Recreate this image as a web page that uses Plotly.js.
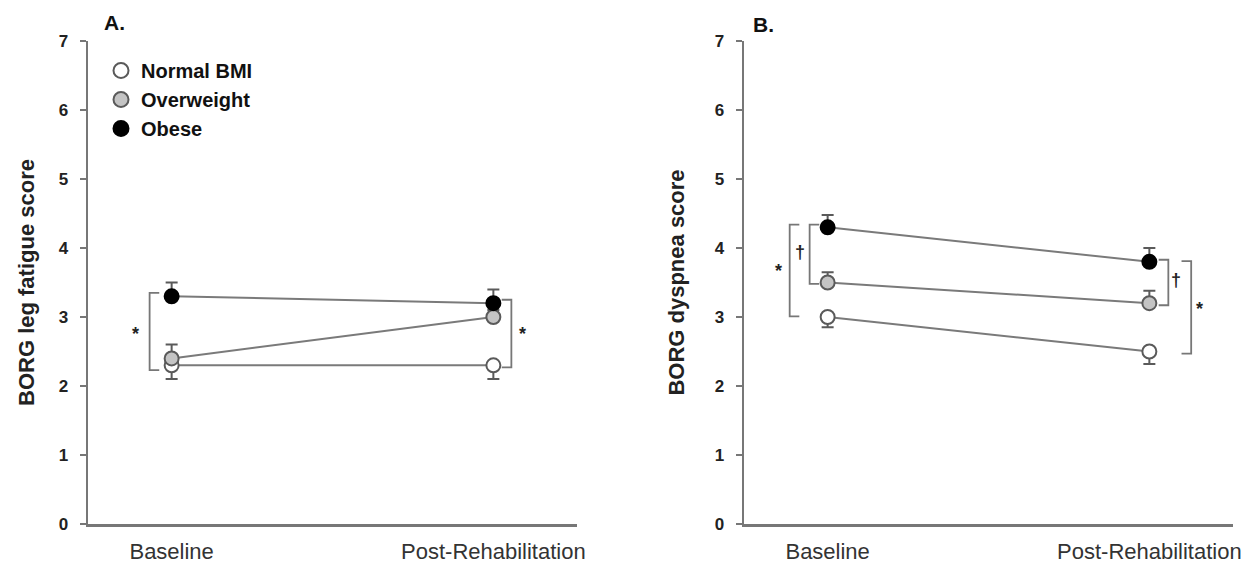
<!DOCTYPE html>
<html><head><meta charset="utf-8">
<script src="https://cdn.plot.ly/plotly-3.0.1.min.js"></script>
<style>html,body{margin:0;padding:0;background:#fff}</style>
</head><body><div id="chart" style="width:1255px;height:566px"></div>
<script>
const timepoints = ["Baseline", "Post-Rehabilitation"];
const groups = ["Normal BMI", "Overweight", "Obese"];
// Panel A: BORG leg fatigue score
const fatigueNormal = [2.3, 2.3];
const fatigueOverweight = [2.4, 3.0];
const fatigueObese = [3.3, 3.2];
const fatigueNormalErr = [0.2, 0.2];
const fatigueOverweightErr = [0.2, 0.1];
const fatigueObeseErr = [0.2, 0.2];
// Panel B: BORG dyspnea score
const dyspneaNormal = [3.0, 2.5];
const dyspneaOverweight = [3.5, 3.2];
const dyspneaObese = [4.3, 3.8];
const dyspneaNormalErr = [0.15, 0.18];
const dyspneaOverweightErr = [0.15, 0.18];
const dyspneaObeseErr = [0.18, 0.2];

const lineCol = "#7a7a7a";
const styles = {
  "Normal BMI": {fill: "#ffffff", edge: "#5a5a5a", up: false},
  "Overweight": {fill: "#c4c4c4", edge: "#5a5a5a", up: true},
  "Obese": {fill: "#000000", edge: "#000000", up: true}
};

function series(name, y, err, xa, ya) {
  const s = styles[name];
  const zeros = err.map(() => 0);
  return {
    type: "scatter", mode: "lines+markers", x: [0, 1], y: y, xaxis: xa, yaxis: ya,
    name: name, showlegend: false,
    line: {color: lineCol, width: 2},
    marker: {size: 14, color: s.fill, line: {color: s.edge, width: 2}},
    error_y: {type: "data", symmetric: false,
      array: s.up ? err : zeros, arrayminus: s.up ? zeros : err,
      color: "#5a5a5a", thickness: 2, width: 6},
    hoverinfo: "x+y"
  };
}

const traces = [
  series("Normal BMI", fatigueNormal, fatigueNormalErr, "x", "y"),
  series("Overweight", fatigueOverweight, fatigueOverweightErr, "x", "y"),
  series("Obese", fatigueObese, fatigueObeseErr, "x", "y"),
  series("Normal BMI", dyspneaNormal, dyspneaNormalErr, "x2", "y2"),
  series("Overweight", dyspneaOverweight, dyspneaOverweightErr, "x2", "y2"),
  series("Obese", dyspneaObese, dyspneaObeseErr, "x2", "y2")
];
groups.forEach((g, i) => {
  const s = styles[g];
  traces.push({type: "scatter", mode: "markers", x: [null], y: [null], xaxis: "x", yaxis: "y",
    name: g, showlegend: true, legendgroup: "g" + i,
    marker: {size: 15, color: s.fill, line: {color: s.edge, width: 2}}});
});

// significance brackets: [axis suffix, x, tick direction, y0, y1, symbol, symbol x, symbol y]
const brackets = [
  ["", -0.0685, 1, 3.35, 2.23, "*", -0.112, 2.76],
  ["", 1.056, -1, 3.25, 2.27, "*", 1.09, 2.76],
  ["2", -0.118, 1, 4.34, 3.01, "*", -0.152, 3.66],
  ["2", -0.056, 1, 4.34, 3.48, "†", -0.087, 3.94],
  ["2", 1.059, -1, 3.83, 3.17, "†", 1.084, 3.54],
  ["2", 1.130, -1, 3.81, 2.47, "*", 1.157, 3.12]
];
const shapes = [], annotations = [];
brackets.forEach(b => {
  const t = 0.03 * b[2];
  shapes.push({type: "path", xref: "x" + b[0], yref: "y" + b[0],
    path: `M ${b[1] + t} ${b[3]} L ${b[1]} ${b[3]} L ${b[1]} ${b[4]} L ${b[1] + t} ${b[4]}`,
    line: {color: "#777", width: 1.8}});
  annotations.push({xref: "x" + b[0], yref: "y" + b[0], x: b[6], y: b[7], text: "<b>" + b[5] + "</b>",
    showarrow: false, font: {family: "Arial, 'Liberation Sans'", size: 18, color: "#222"}});
});
annotations.push({xref: "paper", yref: "paper", x: 102 / 1255, y: 1 - 22 / 566, xanchor: "left", yanchor: "middle",
  text: "<b>A.</b>", showarrow: false, font: {family: "Arial, 'Liberation Sans'", size: 21, color: "#111"}});
annotations.push({xref: "paper", yref: "paper", x: 751 / 1255, y: 1 - 25 / 566, xanchor: "left", yanchor: "middle",
  text: "<b>B.</b>", showarrow: false, font: {family: "Arial, 'Liberation Sans'", size: 21, color: "#111"}});

const baseFont = {family: "Arial, 'Liberation Sans', sans-serif", color: "#222"};
function xaxis(domain, anchor) {
  return {domain: domain, anchor: anchor, type: "linear", range: [-0.26, 1.26],
    tickvals: [0, 1], ticktext: timepoints, ticks: "", showgrid: false, zeroline: false,
    showline: true, linecolor: "#777", linewidth: 2.5, ticklabelstandoff: 6,
    tickfont: Object.assign({}, baseFont, {size: 22, color: "#333"})};
}
function yaxis(domain, anchor, title, standoff) {
  return {domain: domain, anchor: anchor, range: [0, 7], dtick: 1, showgrid: false, zeroline: false,
    showline: true, linecolor: "#777", linewidth: 2.5, ticks: "outside", ticklen: 6, tickwidth: 1.5, tickcolor: "#777",
    tickfont: Object.assign({}, baseFont, {size: 17, weight: "bold"}), ticklabelstandoff: 8,
    title: {text: "<b>" + title + "</b>", font: Object.assign({}, baseFont, {size: 22}), standoff: standoff}};
}
const yDom = [1 - 524 / 566, 1 - 41 / 566];
const layout = {
  width: 1255, height: 566, margin: {l: 0, r: 0, t: 0, b: 0},
  paper_bgcolor: "#fff", plot_bgcolor: "#fff", font: baseFont,
  xaxis: xaxis([88 / 1255, 577 / 1255], "y"),
  yaxis: yaxis(yDom, "x", "BORG leg fatigue score", 18),
  xaxis2: xaxis([744 / 1255, 1233 / 1255], "y2"),
  yaxis2: yaxis(yDom, "x2", "BORG dyspnea score", 24),
  showlegend: true,
  legend: {x: 101 / 1255, y: 1 - 51 / 566, xanchor: "left", yanchor: "top", bgcolor: "rgba(0,0,0,0)",
    traceorder: "grouped", tracegroupgap: 0, itemwidth: 30,
    font: Object.assign({}, baseFont, {size: 20, weight: "bold", color: "#111"})},
  shapes: shapes, annotations: annotations
};
Plotly.newPlot("chart", traces, layout, {displayModeBar: false, staticPlot: true});
</script></body></html>
